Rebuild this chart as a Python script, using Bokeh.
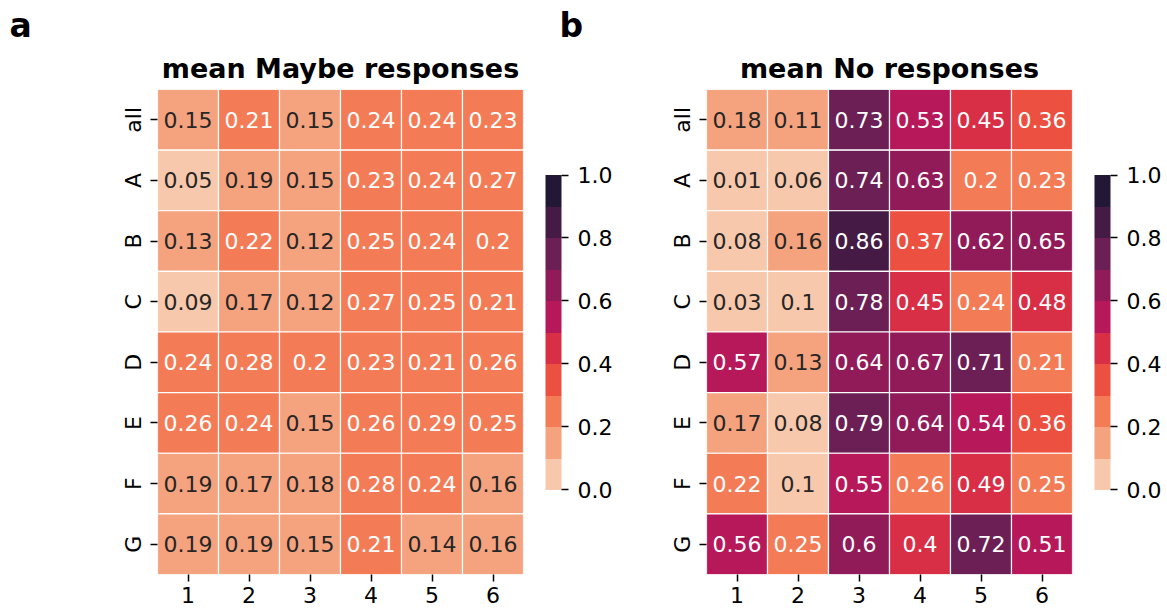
from bokeh.plotting import figure
from bokeh.models import (FactorRange, ColumnDataSource, LinearColorMapper, ColorBar,
                          FixedTicker, PrintfTickFormatter, Label, Title, Range1d)
from bokeh.layouts import row, column
from bokeh.embed import file_html
from bokeh.resources import INLINE
from bokeh.core.properties import value

# ---------------- data ----------------
columns = ["1", "2", "3", "4", "5", "6"]
rows = ["all", "A", "B", "C", "D", "E", "F", "G"]

maybe_all = [0.15, 0.21, 0.15, 0.24, 0.24, 0.23]
maybe_A = [0.05, 0.19, 0.15, 0.23, 0.24, 0.27]
maybe_B = [0.13, 0.22, 0.12, 0.25, 0.24, 0.2]
maybe_C = [0.09, 0.17, 0.12, 0.27, 0.25, 0.21]
maybe_D = [0.24, 0.28, 0.2, 0.23, 0.21, 0.26]
maybe_E = [0.26, 0.24, 0.15, 0.26, 0.29, 0.25]
maybe_F = [0.19, 0.17, 0.18, 0.28, 0.24, 0.16]
maybe_G = [0.19, 0.19, 0.15, 0.21, 0.14, 0.16]

no_all = [0.18, 0.11, 0.73, 0.53, 0.45, 0.36]
no_A = [0.01, 0.06, 0.74, 0.63, 0.2, 0.23]
no_B = [0.08, 0.16, 0.86, 0.37, 0.62, 0.65]
no_C = [0.03, 0.099, 0.78, 0.45, 0.24, 0.48]
no_D = [0.57, 0.13, 0.64, 0.67, 0.71, 0.21]
no_E = [0.17, 0.08, 0.79, 0.64, 0.54, 0.36]
no_F = [0.22, 0.099, 0.55, 0.26, 0.49, 0.25]
no_G = [0.56, 0.25, 0.6, 0.4, 0.72, 0.51]

maybe_values = [maybe_all, maybe_A, maybe_B, maybe_C, maybe_D, maybe_E, maybe_F, maybe_G]
no_values = [no_all, no_A, no_B, no_C, no_D, no_E, no_F, no_G]

cbar_ticks = [0.0, 0.2, 0.4, 0.6, 0.8, 1.0]
panel_letters = ["a", "b"]

# rocket_r, 10 bins (light -> dark)
palette = ["#f7c8ab", "#f5a37e", "#f37c57", "#eb5040", "#d82e46",
           "#b7185a", "#911b58", "#6b1f55", "#451b45", "#221734"]

FONT = "DejaVu Sans"
STRIP_H = 44
HEAT_H = 567


def luminance(hexcol):
    rgb = [int(hexcol[i:i + 2], 16) / 255 for i in (1, 3, 5)]
    lin = [c / 12.92 if c <= 0.04045 else ((c + 0.055) / 1.055) ** 2.4 for c in rgb]
    return 0.2126 * lin[0] + 0.7152 * lin[1] + 0.0722 * lin[2]


def make_heatmap(values, title, width, mb_left, mb_right):
    mapper = LinearColorMapper(palette=palette, low=-1e-6, high=1.0)
    xs, ys, vs, labels, tcols = [], [], [], [], []
    for r, rv in zip(rows, values):
        for c, v in zip(columns, rv):
            xs.append(c)
            ys.append(r)
            vs.append(v)
            labels.append(f"{round(v, 2):g}")
            idx = min(int((v + 1e-6) * len(palette)), len(palette) - 1)
            tcols.append("#ffffff" if luminance(palette[idx]) < 0.408 else "#262626")
    src = ColumnDataSource(dict(x=xs, y=ys, v=vs, label=labels, tc=tcols))

    p = figure(x_range=FactorRange(*columns), y_range=FactorRange(*reversed(rows)),
               width=width, height=HEAT_H,
               min_border_left=mb_left, min_border_right=mb_right,
               min_border_top=42, min_border_bottom=37,
               output_backend="svg", toolbar_location=None, title=title)

    p.rect(x="x", y="y", width=1, height=1, source=src,
           fill_color={"field": "v", "transform": mapper},
           line_color="white", line_width=1.2)
    p.text(x="x", y="y", text="label", text_color="tc", source=src,
           text_align="center", text_baseline="middle",
           text_font=value(FONT), text_font_size="22px")

    p.title.text_font = FONT
    p.title.text_font_size = "27px"
    p.title.text_font_style = "bold"
    p.title.text_color = "black"
    p.title.align = "center"
    p.title.standoff = 12

    p.grid.visible = False
    p.outline_line_color = None
    for ax in (p.xaxis, p.yaxis):
        ax.axis_line_color = None
        ax.major_tick_in = 0
        ax.major_tick_out = 7
        ax.major_tick_line_width = 1.5
        ax.major_tick_line_color = "black"
        ax.minor_tick_line_color = None
        ax.major_label_text_font = FONT
        ax.major_label_text_font_size = "22px"
        ax.major_label_text_color = "black"
    p.xaxis.major_label_standoff = 5
    p.yaxis.major_label_standoff = 5
    p.yaxis.major_label_orientation = "vertical"

    # gap between heatmap and colour bar
    p.add_layout(Title(text=" ", text_font_size="1px", standoff=19), "right")

    cb = ColorBar(color_mapper=mapper, ticker=FixedTicker(ticks=cbar_ticks),
                  formatter=PrintfTickFormatter(format="%.1f"),
                  width=16, height=315, padding=0, margin=0,
                  major_tick_in=0, major_tick_out=7,
                  major_tick_line_color="black", major_tick_line_width=1.5,
                  minor_tick_line_color=None,
                  label_standoff=9,
                  major_label_text_font=FONT, major_label_text_font_size="22px",
                  major_label_text_color="black",
                  bar_line_color=None, border_line_color=None,
                  background_fill_color=None, location="center")
    p.add_layout(cb, "right")
    return p


p1 = make_heatmap(maybe_values, "mean Maybe responses", 640, 157, 117)
p2 = make_heatmap(no_values, "mean No responses", 526, 66, 94)

# strip with the panel letters
strip = figure(width=1166, height=STRIP_H, x_range=Range1d(0, 1166), y_range=Range1d(0, STRIP_H),
               min_border=0, x_axis_location=None, y_axis_location=None,
               output_backend="svg", toolbar_location=None)
strip.outline_line_color = None
strip.grid.visible = False
for txt, lx in zip(panel_letters, [9, 559]):
    strip.add_layout(Label(x=lx, y=19, text=txt, text_font=FONT,
                           text_font_size="33px", text_font_style="bold",
                           text_color="black", text_align="left",
                           text_baseline="alphabetic"))

layout = column(strip, row(p1, p2))
open("out.html", "w").write(file_html(layout, INLINE))
